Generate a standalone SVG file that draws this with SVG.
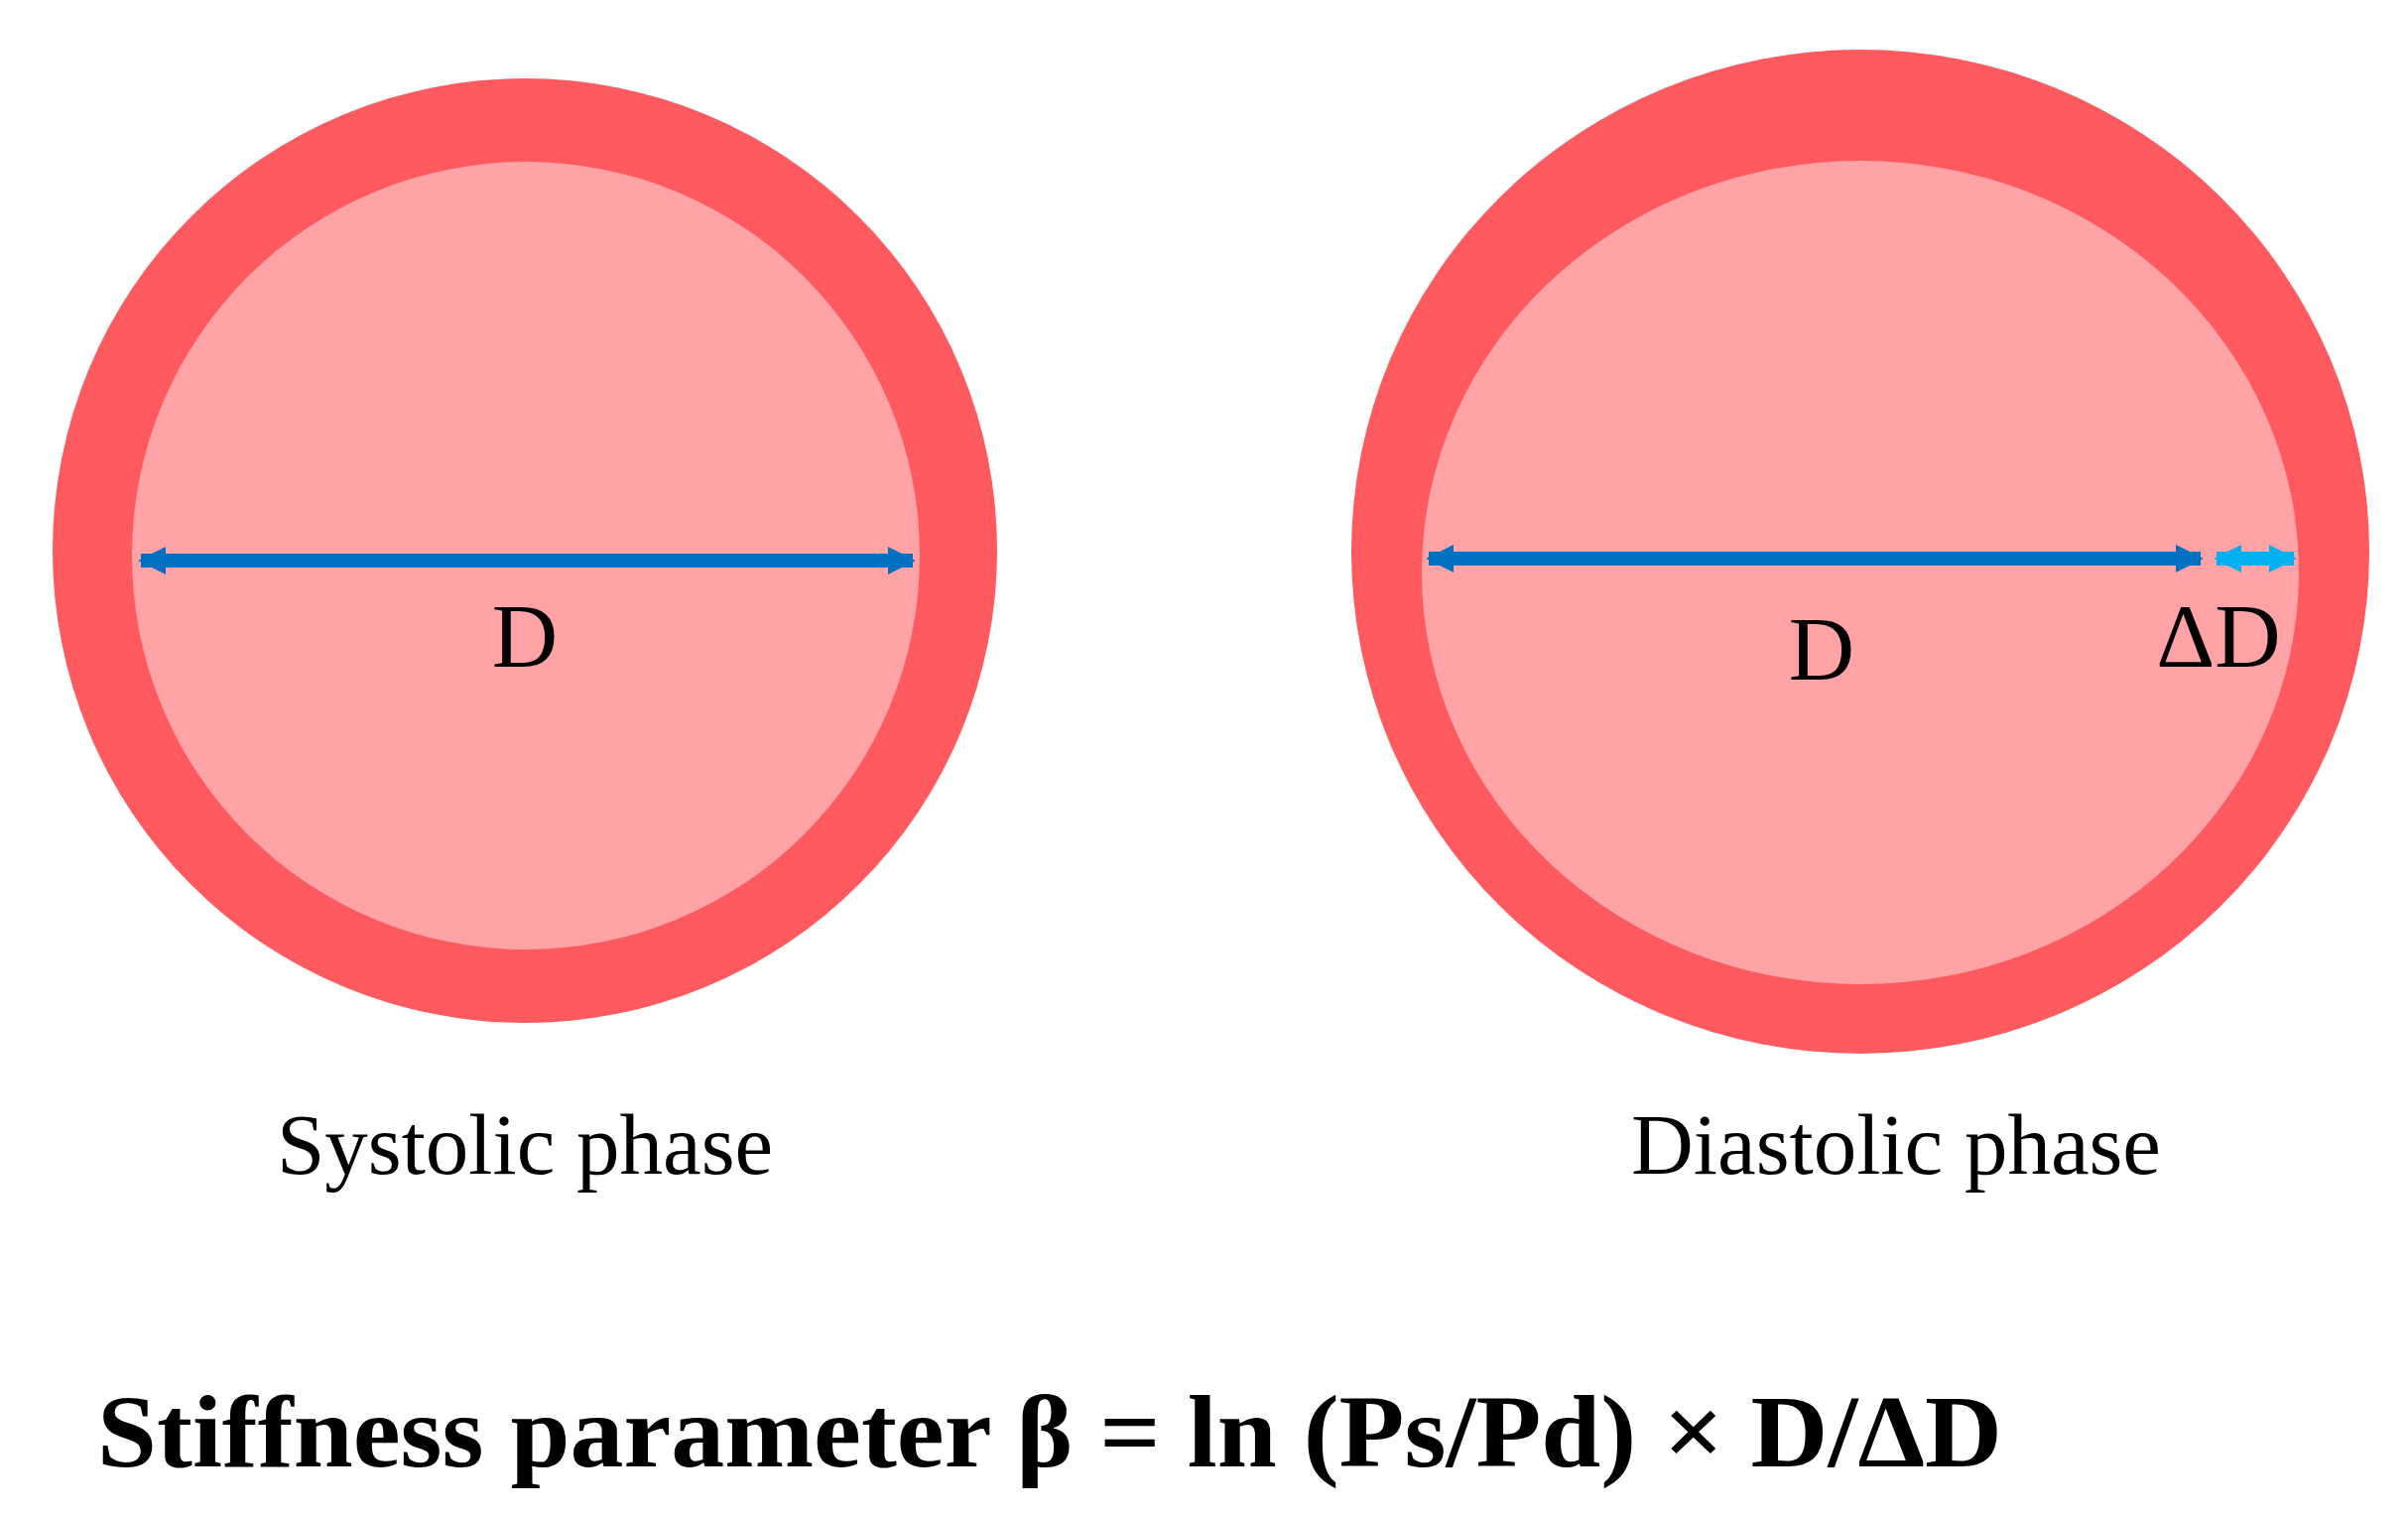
<svg xmlns="http://www.w3.org/2000/svg" width="2427" height="1529" viewBox="0 0 2427 1529">
<style>
.outer{fill:#FF5A5F}.inner{fill:#FFA3A6}
.t{font-family:"Liberation Serif",serif;fill:#000}
</style>
<defs>
<marker id="ab" viewBox="0 0 10 10" refX="9" refY="5" markerWidth="2" markerHeight="2" orient="auto-start-reverse"><path d="M0,0L10,5L0,10z" fill="#0070C0"/></marker>
<marker id="ac" viewBox="0 0 10 10" refX="9" refY="5" markerWidth="2" markerHeight="2" orient="auto-start-reverse"><path d="M0,0L10,5L0,10z" fill="#00B0F0"/></marker>
</defs>
<rect width="2427" height="1529" fill="#fff"/>
<g id="systolic">
<circle class="outer" cx="529" cy="555" r="476"/>
<circle class="inner" cx="530" cy="560" r="397"/>
<text class="t" x="529" y="672" font-size="92" text-anchor="middle">D</text>
<text class="t" x="529" y="1183" font-size="87" text-anchor="middle">Systolic phase</text>
</g>
<g id="diastolic">
<ellipse class="outer" cx="1875" cy="556" rx="513" ry="506"/>
<ellipse class="inner" cx="1875" cy="577" rx="442" ry="415"/>
<text class="t" x="1836" y="685" font-size="92" text-anchor="middle">D</text>
<text class="t" x="2236" y="672" font-size="92" text-anchor="middle">ΔD</text>
<text class="t" x="1911" y="1183" font-size="87" text-anchor="middle">Diastolic phase</text>
</g>
<g id="connectors">
<line x1="142" y1="565" x2="920" y2="565" stroke="#0070C0" stroke-width="14" marker-start="url(#ab)" marker-end="url(#ab)"/>
<line x1="1440" y1="563" x2="2218" y2="563" stroke="#0070C0" stroke-width="14" marker-start="url(#ab)" marker-end="url(#ab)"/>
<line x1="2234" y1="563" x2="2312" y2="563" stroke="#00B0F0" stroke-width="14" marker-start="url(#ac)" marker-end="url(#ac)"/>
</g>
<text class="t" x="98" y="1478" font-size="104" font-weight="bold" textLength="1920" lengthAdjust="spacingAndGlyphs">Stiffness parameter β = ln (Ps/Pd) × D/ΔD</text>
</svg>
